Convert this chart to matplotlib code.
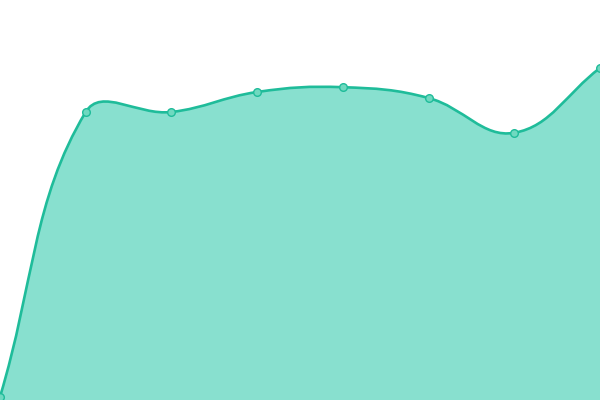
import matplotlib
matplotlib.use("Agg")
import matplotlib.pyplot as plt
import numpy as np
from matplotlib.path import Path
from matplotlib.patches import PathPatch

labels = ["A", "B", "C", "D", "E", "F", "G", "H"]
values = [0.8, 72, 72, 77, 78.2, 75.5, 66.8, 83]

line_color = "#1fbc9a"
fill_color = "#88e0cf"
tension = 0.4

fig = plt.figure(figsize=(6, 4), dpi=100)
ax = fig.add_axes([0, 0, 1, 1])
ax.set_xlim(0, len(values) - 1)
ax.set_ylim(0, 100)
ax.axis("off")

# chart.js style spline, control points computed in pixel space
pts = ax.transData.transform(np.column_stack([np.arange(len(values)), values]))
n = len(pts)
verts = [pts[0]]
codes = [Path.MOVETO]
cps = []
for i in range(n):
    prev = pts[max(i - 1, 0)]
    cur = pts[i]
    nxt = pts[min(i + 1, n - 1)]
    d01 = np.hypot(*(cur - prev))
    d12 = np.hypot(*(nxt - cur))
    s = d01 + d12 if d01 + d12 > 0 else 1
    fa = tension * d01 / s
    fb = tension * d12 / s
    cps.append((cur - fa * (nxt - prev), cur + fb * (nxt - prev)))
for i in range(1, n):
    verts += [cps[i - 1][1], cps[i][0], pts[i]]
    codes += [Path.CURVE4] * 3

inv = ax.transData.inverted()
verts_d = inv.transform(np.array(verts))
line_path = Path(verts_d, codes)

fill_verts = list(verts_d) + [[len(values) - 1, 0], [0, 0], [0, 0]]
fill_codes = codes + [Path.LINETO, Path.LINETO, Path.CLOSEPOLY]
ax.add_patch(PathPatch(Path(fill_verts, fill_codes), facecolor=fill_color,
                       edgecolor="none", zorder=1))
ax.add_patch(PathPatch(line_path, facecolor="none", edgecolor=line_color,
                       lw=1.9, zorder=2, capstyle="round", joinstyle="round"))
ax.plot(np.arange(len(values)), values, "o", ms=5.5, mfc="#6fd9c0",
        mec=line_color, mew=1.0, zorder=3, clip_on=True)

fig.savefig("out.png", dpi=100)
